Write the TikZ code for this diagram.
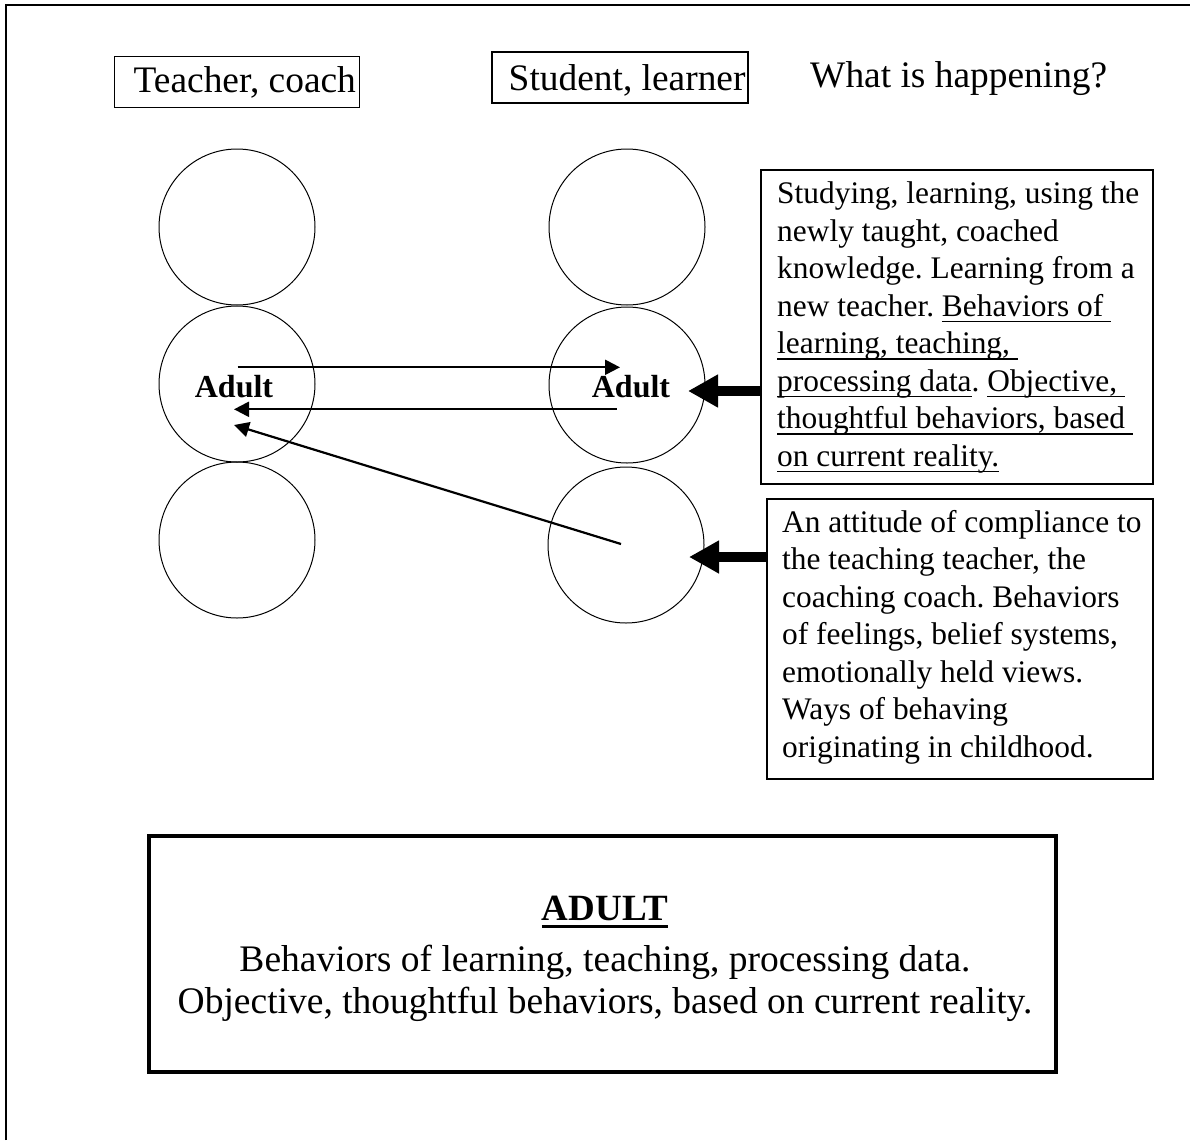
\documentclass[tikz,border=0pt]{standalone}
\usepackage{fontspec}
\setmainfont{Liberation Serif}
\usetikzlibrary{arrows.meta}
\frenchspacing
\newcommand\ulr[3]{\setbox0\hbox{#3}\rlap{\rule[#1]{\wd0}{#2}}\box0}
\newcommand\bul[1]{\ulr{-6pt}{1.6pt}{#1}}
\begin{document}
\begin{tikzpicture}[x=1pt,y=-1pt,
  ring/.style={draw, line width=1pt, circle, minimum size=156pt, inner sep=0pt},
  framebox/.style={draw, line width=1.6pt, inner sep=0pt},
  title/.style={font=\fontsize{37.4}{44}\selectfont, inner sep=0pt},
  body/.style={font=\fontsize{31.4}{37.5}\selectfont, inner sep=0pt, align=left},
  bigtext/.style={font=\fontsize{37.5}{40}\selectfont, inner sep=0pt, anchor=base},
  thinarrow/.style={line width=2.2pt, -{Triangle[length=15pt,width=15pt]}},
  thickarrow/.style={line width=10pt, -{Triangle[length=30pt,width=31pt]}},
  adultlabel/.style={font=\bfseries\fontsize{32}{38}\selectfont, inner sep=0pt, anchor=base},
]
\useasboundingbox (0,0) rectangle (1190,1140);
% outer frame (top and left only)
\draw[line width=2pt] (6,1140) -- (6,5.5) -- (1190,5.5);

% titles
\node[framebox, minimum width=245, minimum height=51] (tbox) at (237,82) {};
\node[title, anchor=base west] (ttxt) at (133.5,92.7) {Teacher, coach};
\node[framebox, minimum width=256, minimum height=51] (sbox) at (620,77.5) {};
\node[title, anchor=base west] (stxt) at (508.5,90) {Student, learner};
\node[title, anchor=base west] (what) at (810,87) {What is happening?};

% circles
\node[ring] (tl) at (237,227) {};
\node[ring] (ml) at (237,384) {};
\node[ring] (bl) at (237,540) {};
\node[ring] (tr) at (627,227) {};
\node[ring] (mr) at (627,385) {};
\node[ring] (br) at (626,545) {};

\node[adultlabel] (adL) at (234,397.5) {Adult};
\node[adultlabel] (adR) at (631,397.5) {Adult};

% thin arrows
\coordinate (p1) at (237.5,367.3); \coordinate (q1) at (620,367.3);
\coordinate (p2) at (616.5,409.3); \coordinate (q2) at (234,409.3);
\coordinate (p3) at (621,544);     \coordinate (q3) at (234,425);
\draw[thinarrow] (p1) -- (q1);
\draw[thinarrow] (p2) -- (q2);
\draw[thinarrow] (p3) -- (q3);

% description boxes
\node[framebox, minimum width=392, minimum height=314, anchor=north west] (b1) at (760,169) {};
\node[body, anchor=north west] (b1t) at (777,182) {Studying, learning, using the\\
newly taught, coached\\
knowledge. Learning from a\\
new teacher. \bul{Behaviors of\ }\\
\bul{learning, teaching,\ }\\
\bul{processing data}. \bul{Objective,\ }\\
\bul{thoughtful behaviors, based\ }\\
\bul{on current reality.}};

\node[framebox, minimum width=386, minimum height=280, anchor=north west] (b2) at (766,498) {};
\node[body, anchor=north west] (b2t) at (782,510) {An attitude of compliance to\\
the teaching teacher, the\\
coaching coach. Behaviors\\
of feelings, belief systems,\\
emotionally held views.\\
Ways of behaving\\
originating in childhood.};

% thick arrows
\coordinate (h1) at (688,391);
\coordinate (h2) at (689,557);
\draw[thickarrow] (b1.west |- h1) -- (h1);
\draw[thickarrow] (b2.west |- h2) -- (h2);

% ADULT box
\node[draw, line width=4pt, inner sep=0pt, minimum width=907, minimum height=236, anchor=north west] (big) at (147,834) {};
\node[bigtext, font=\bfseries\fontsize{37}{40}\selectfont] (adT) at (605,920) {\ulr{-8pt}{3.5pt}{ADULT}};
\node[bigtext] (adL1) at (605,971) {Behaviors of learning, teaching, processing data.};
\node[bigtext] (adL2) at (605,1013) {Objective, thoughtful behaviors, based on current reality.};
\end{tikzpicture}
\end{document}
